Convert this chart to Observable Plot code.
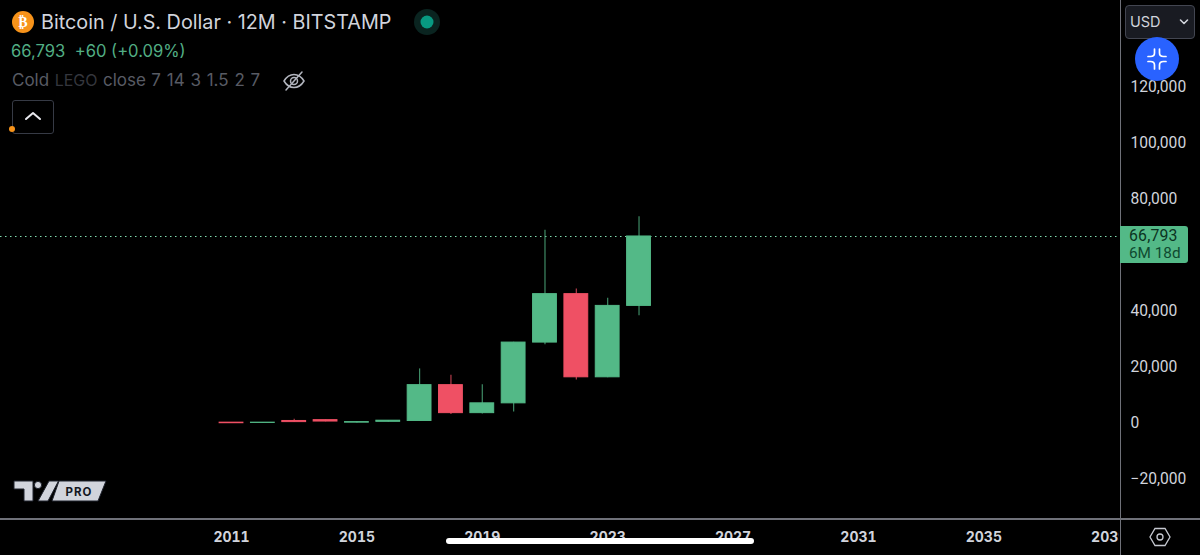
<!DOCTYPE html>
<html><head><meta charset="utf-8">
<script src="https://cdn.jsdelivr.net/npm/d3@7"></script>
<script src="https://cdn.jsdelivr.net/npm/@observablehq/plot@0.6"></script>
<style>
html,body{margin:0;padding:0;background:#000;width:1200px;height:555px;overflow:hidden}
#stage{position:relative;width:1200px;height:555px;font-family:Inter,sans-serif}
#stage>*{position:absolute}
.t{white-space:nowrap;line-height:1}
</style></head><body>
<div id="stage">
  <div id="chart" style="left:0;top:0"></div>
  <div style="left:1120px;top:0;width:1.4px;height:555px;background:#6f7179"></div>
  <div style="left:0;top:518.4px;width:1200px;height:1.4px;background:#6f7179"></div>

  <svg style="left:12px;top:11px" width="22" height="22"><circle cx="11" cy="11" r="11" fill="#f7931a"/><text x="11" y="16" text-anchor="middle" font-family="DejaVu Sans" font-weight="bold" font-size="14" fill="#fff">₿</text></svg>
  <div class="t" id="title" style="left:41px;top:13px;font-size:19.8px;color:#d1d4dc">Bitcoin / U.S. Dollar · 12M · BITSTAMP</div>
  <svg style="left:414px;top:9px" width="26" height="26"><circle cx="13" cy="13" r="13" fill="#0a2420"/><circle cx="13" cy="13" r="6.5" fill="#089981"/></svg>
  <div class="t" style="left:11px;top:43px;font-size:16.6px;color:#52ae84">66,793&nbsp; +60 (+0.09%)</div>
  <div class="t" style="left:12px;top:72px;font-size:17px;color:#585b64;word-spacing:.7px">Cold <span style="color:#34363d;font-size:16px">LEGO</span> close <span style="word-spacing:1px">7 14 3 1.5 2 7</span></div>
  <svg style="left:282px;top:70px" width="24" height="22" fill="none" stroke="#b2b5be" stroke-width="1.5" stroke-linecap="round"><path d="M2 11C5 6 8 4.5 12 4.5S19 6 22 11C19 16 16 17.5 12 17.5S5 16 2 11Z"/><circle cx="12" cy="11" r="3.5"/><path d="M20 2L4 20"/></svg>
  <div style="left:12px;top:100px;width:40px;height:32px;border:1px solid #363a45;border-radius:3px"></div>
  <svg style="left:24px;top:110px" width="18" height="12" fill="none" stroke="#e8e9ee" stroke-width="2" stroke-linecap="round" stroke-linejoin="round"><path d="M2 9L9 3L16 9"/></svg>
  <svg style="left:8px;top:125px" width="8" height="8"><circle cx="4" cy="4" r="3" fill="#f7931a"/></svg>

  <div style="left:1125px;top:5px;width:68px;height:32px;background:#191b22;border:1px solid #434651;border-radius:4px"></div>
  <div class="t" style="left:1130px;top:15px;font-size:14.5px;color:#d1d4dc">USD</div>
  <svg style="left:1179px;top:18px" width="10" height="8" fill="none" stroke="#d1d4dc" stroke-width="1.6" stroke-linecap="round" stroke-linejoin="round"><path d="M1.5 2L5 5.5L8.5 2"/></svg>
  <svg style="left:1135px;top:37px" width="44" height="44" fill="none" stroke="#fff" stroke-width="1.7" stroke-linecap="round"><circle cx="22" cy="22" r="22" fill="#2962ff" stroke="none"/><path d="M19.5 12V16Q19.5 19.5 15.5 19.5H13M24.5 12V16Q24.5 19.5 28.5 19.5H31M19.5 32V28Q19.5 24.5 15.5 24.5H13M24.5 32V28Q24.5 24.5 28.5 24.5H31"/></svg>

  <div style="left:1120px;top:226px;width:68px;height:37px;background:#53b987;border-radius:0 3px 3px 0"></div>
  <div class="t" style="left:1129px;top:228px;font-family:Roboto;font-size:15.8px;color:#0b3321;letter-spacing:.2px">66,793</div>
  <div class="t" style="left:1129px;top:246px;font-family:Roboto;font-size:15.3px;color:#0f4a30">6M 18d</div>

  <svg style="left:12px;top:478px" width="98" height="26">
    <g fill="#d1d4dc" stroke="#1e222d" stroke-width="1">
      <path d="M2 3H21V23H12V11H2Z"/><circle cx="26" cy="7" r="3.6"/><path d="M37 3H46.5L36 23H26Z"/>
      <path d="M47 3H94L86 23H40Z"/>
    </g>
    <text x="67" y="18" text-anchor="middle" font-family="Inter" font-weight="700" font-size="11.5" letter-spacing="1" fill="#131722">PRO</text>
  </svg>
  <svg style="left:1149px;top:526px" width="22" height="22" fill="none" stroke="#c5c8d0" stroke-width="1.3"><path d="M6 2.5H16L21 11L16 19.5H6L1 11Z"/><circle cx="11" cy="11" r="3"/></svg>
  <div style="left:446px;top:538px;width:308px;height:6px;background:#fff;border-radius:3px"></div>
</div>
<script>
const years  = [2011, 2012, 2013, 2014, 2015, 2016, 2017, 2018, 2019, 2020, 2021, 2022, 2023, 2024];
const opens  = [300, 200, 900, 1200, 300, 600, 900, 13700, 3700, 7200, 28900, 46200, 16500, 42000];
const closes = [100, 300, 500, 700, 500, 1000, 13700, 3700, 7200, 28900, 46200, 16500, 42000, 66793];
const highs  = [350, 350, 1500, 1250, 520, 1050, 19500, 17200, 13800, 29000, 69000, 48000, 44700, 73800];
const lows   = [50, 100, 400, 600, 200, 500, 800, 3200, 3400, 4100, 28100, 15500, 16300, 38500];
const yTicks = [-20000, 0, 20000, 40000, 80000, 100000, 120000];
const xTicks = [2011, 2015, 2019, 2023, 2027, 2031, 2035, 2039];
const lastPrice = [66793];
const green = "#53b987", red = "#ef5064";
const candles = years.map((year, i) => ({year, open: opens[i], close: closes[i], high: highs[i], low: lows[i]}));
const hue = d => d.close >= d.open ? green : red;

const plot = Plot.plot({
  width: 1200, height: 555, margin: 0, marginRight: 80, marginBottom: 36,
  style: {background: "#000", fontFamily: "Inter, sans-serif"},
  x: {domain: [2003.63, 2039.36]},
  y: {domain: [-34286, 151071]},
  marks: [
    Plot.ruleY(lastPrice, {stroke: "#7fdcae", strokeWidth: 1.2, strokeDasharray: "1.5,3.5"}),
    Plot.ruleX(candles, {x: "year", y1: "low", y2: "high", stroke: hue, strokeWidth: 1.2, strokeOpacity: 0.75}),
    Plot.rect(candles, {x1: d => d.year - 0.38, x2: d => d.year + 0.38, y1: "open", y2: "close", fill: hue, stroke: hue, strokeWidth: 1}),
    Plot.axisY({anchor: "right", ticks: yTicks, tickSize: 0, tickPadding: 10, tickFormat: d3.format(","), label: null, fill: "#d1d4dc", fontSize: 15.6, fontFamily: "Roboto"}),
    Plot.axisX({ticks: xTicks, tickSize: 0, tickPadding: 13, tickFormat: d => String(d), label: null, fill: "#d1d4dc", fontSize: 14, fontWeight: 700, letterSpacing: "1.2px"})
  ]
});
document.getElementById("chart").append(plot);
// the 2039 label is cut off by the price panel, as in the reference
const ns = "http://www.w3.org/2000/svg";
const cp = document.createElementNS(ns, "clipPath"); cp.id = "panel";
const cr = document.createElementNS(ns, "rect");
cr.setAttribute("width", 1118); cr.setAttribute("height", 555); cp.append(cr); plot.append(cp);
const xlabels = plot.querySelector('[aria-label="x-axis tick label"]');
if (xlabels) xlabels.setAttribute("clip-path", "url(#panel)");
</script>
</body></html>
